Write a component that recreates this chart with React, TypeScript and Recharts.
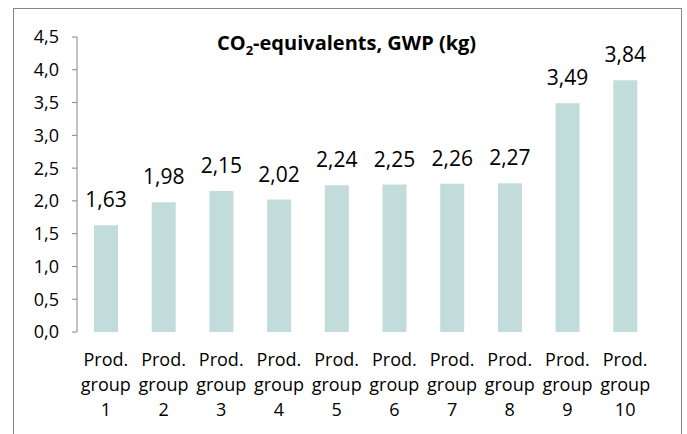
import React from 'react'
import { BarChart, Bar, XAxis, YAxis, LabelList } from 'recharts'

const categories = [
  'Prod. group 1',
  'Prod. group 2',
  'Prod. group 3',
  'Prod. group 4',
  'Prod. group 5',
  'Prod. group 6',
  'Prod. group 7',
  'Prod. group 8',
  'Prod. group 9',
  'Prod. group 10',
]
const gwpValues = [1.63, 1.98, 2.15, 2.02, 2.24, 2.25, 2.26, 2.27, 3.49, 3.84]
const yTicks = [0, 0.5, 1, 1.5, 2, 2.5, 3, 3.5, 4, 4.5]
const edgeTicks = [0, 1, 2, 3, 4, 5, 6, 7, 8, 9, 10]

const data = categories.map((name, i) => ({ name, gwp: gwpValues[i] }))

const FONT = '"Open Sans", sans-serif'
const AXIS = '#868686'
const comma = (v: number, d: number) => v.toFixed(d).replace('.', ',')

const CategoryTick = (props: any) => {
  const { x, y, payload } = props
  const words = String(payload.value).split(' ')
  return (
    <g>
      {words.map((w, i) => (
        <text
          key={i}
          x={x}
          y={y + 34 + i * 25}
          textAnchor="middle"
          fontFamily={FONT}
          fontSize={18}
          fill="#000"
        >
          {w}
        </text>
      ))}
    </g>
  )
}

export default function App() {
  return (
    <div
      style={{
        position: 'absolute',
        left: 0,
        top: 0,
        width: 687,
        height: 434,
        overflow: 'hidden',
        background: '#fff',
      }}
    >
      <div
        style={{
          position: 'absolute',
          left: 13,
          top: 8,
          width: 667,
          height: 426,
          border: `1px solid ${AXIS}`,
          borderBottom: 'none',
        }}
      />
      <BarChart
        width={687}
        height={434}
        data={data}
        margin={{ top: 37, right: 33, bottom: 0, left: 0 }}
        style={{ position: 'absolute', left: 0, top: 0 }}
      >
        <XAxis
          xAxisId="edge"
          type="number"
          domain={[0, 10]}
          ticks={edgeTicks}
          height={0}
          tickSize={5}
          axisLine={{ stroke: AXIS }}
          tickLine={{ stroke: AXIS }}
          tick={() => <g />}
        />
        <XAxis
          xAxisId="cat"
          dataKey="name"
          height={102}
          interval={0}
          axisLine={false}
          tickLine={false}
          tickSize={0}
          tickMargin={0}
          tick={<CategoryTick />}
        />
        <YAxis
          width={77}
          domain={[0, 4.5]}
          ticks={yTicks}
          interval={0}
          tickSize={5}
          tickMargin={13}
          axisLine={{ stroke: AXIS }}
          tickLine={{ stroke: AXIS }}
          tickFormatter={(v: number) => comma(v, 1)}
          tick={{ fontFamily: FONT, fontSize: 18, fill: '#000' }}
        />
        <Bar
          xAxisId="cat"
          dataKey="gwp"
          fill="#c2dcdc"
          barSize={24}
          isAnimationActive={false}
        >
          <LabelList
            dataKey="gwp"
            position="top"
            offset={18}
            formatter={(v: any) => comma(Number(v), 2)}
            style={{ fontFamily: FONT, fontSize: 21, fill: '#000' }}
          />
        </Bar>
      </BarChart>
      <div
        style={{
          position: 'absolute',
          left: 217,
          top: 33,
          whiteSpace: 'nowrap',
          fontFamily: FONT,
          fontWeight: 700,
          fontSize: 20,
          lineHeight: '20px',
          color: '#000',
        }}
      >
        CO<sub style={{ fontSize: 13 }}>2</sub>-equivalents, GWP (kg)
      </div>
    </div>
  )
}
